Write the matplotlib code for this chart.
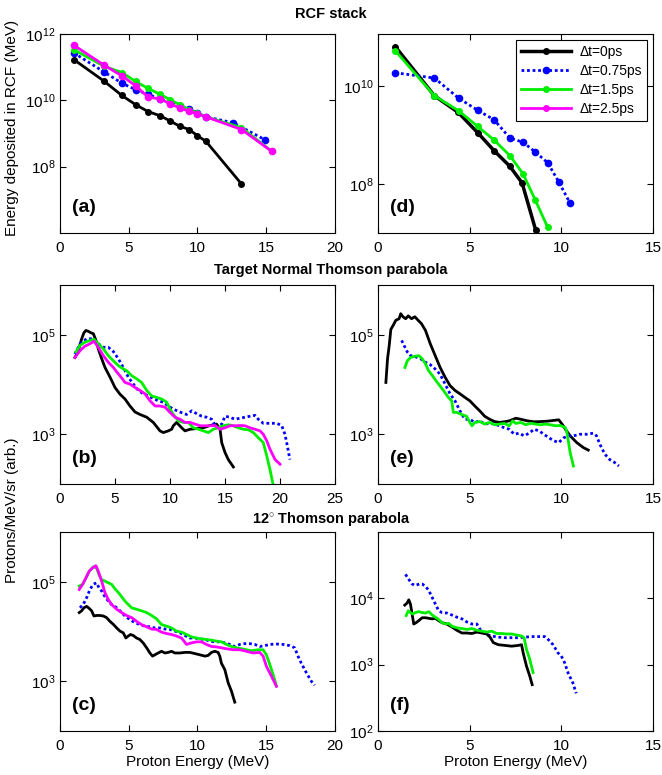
import matplotlib
matplotlib.use('Agg')
import matplotlib.pyplot as plt
from matplotlib.ticker import FixedLocator, NullLocator, FixedFormatter

plt.rcParams['font.family'] = ['Liberation Sans', 'DejaVu Sans']
plt.rcParams['mathtext.fontset'] = 'custom'
plt.rcParams['mathtext.rm'] = 'Liberation Sans'
plt.rcParams['mathtext.it'] = 'Liberation Sans:italic'
plt.rcParams['mathtext.bf'] = 'Liberation Sans:bold'

labels = ['\u0394t=0ps', '\u0394t=0.75ps', '\u0394t=1.5ps', '\u0394t=2.5ps']
colors = ['black', '#0000ff', '#00ee00', '#ff00ff']

# ---- (a) RCF stack, shot set 1 ----
a_x = [1.0, 3.2, 4.5, 5.5, 6.4, 7.3, 8.0, 8.7, 9.4, 10.0, 10.6, 13.2]
a_x_long = [1.0, 3.2, 4.5, 5.5, 6.4, 7.3, 8.0, 8.7, 9.4, 10.0, 10.6, 13.2, 15.4]
a_blue_x = [1.0, 3.2, 4.5, 5.5, 6.4, 7.3, 8.0, 8.7, 9.4, 10.0, 10.6, 12.6, 14.9]
a_black = [1.7e11, 3.8e10, 1.4e10, 7.4e9, 4.6e9, 3.4e9, 2.4e9, 1.66e9, 1.32e9, 8.5e8, 5.9e8, 3.0e7]
a_blue = [2.7e11, 7.2e10, 3.3e10, 2.1e10, 1.5e10, 1.1e10, 8.3e9, 6.9e9, 5.5e9, 4.2e9, 3.2e9, 2.1e9, 6.5e8]
a_green = [3.4e11, 1.07e11, 6.9e10, 3.7e10, 2.3e10, 1.5e10, 1.05e10, 7.4e9, 5.2e9, 4.2e9, 3.2e9, 1.5e9, 2.9e8]
a_magenta = [4.6e11, 1.15e11, 5.5e10, 2.75e10, 1.26e10, 1.1e10, 7.9e9, 5.9e9, 4.7e9, 3.9e9, 3.2e9, 1.32e9, 2.9e8]

# ---- (d) RCF stack, shot set 2 ----
d_x_black = [0.95, 3.08, 4.37, 5.43, 6.33, 7.19, 7.86, 8.6]
d_black = [6.3e10, 6.3e9, 2.9e9, 1.12e9, 4.8e8, 2.3e8, 1.05e8, 1.15e7]
d_x_green = [0.95, 3.08, 4.41, 5.43, 6.33, 7.19, 7.91, 8.58, 9.26]
d_green = [5.2e10, 6.3e9, 3.1e9, 1.5e9, 7.9e8, 3.8e8, 1.62e8, 4.7e7, 1.3e7]
d_x_blue = [0.95, 3.08, 4.41, 5.43, 6.33, 7.19, 7.91, 8.58, 9.26, 9.86, 10.47]
d_blue = [1.86e10, 1.45e10, 5.6e9, 3.2e9, 2.05e9, 8.7e8, 7.1e8, 4.5e8, 2.7e8, 1.1e8, 4.1e7]

# ---- (b) Target normal TP, set 1 ----
b_black_x = [1.36, 1.67, 1.97, 2.18, 2.36, 2.58, 2.79, 3.03, 3.27, 3.48, 3.79, 4.09, 4.55, 5.0,
             5.45, 5.91, 6.36, 6.82, 7.27, 7.88, 8.48, 9.09, 9.39, 9.85, 10.15, 10.3, 10.6, 11.06,
             11.36, 11.82, 12.42, 13.03, 13.64, 14.24, 14.55, 14.7, 15.0, 15.3, 15.76]
b_black = [3.5e4, 4.8e4, 8.3e4, 1.1e5, 1.22e5, 1.17e5, 1.1e5, 1.05e5, 7.7e4, 5.2e4, 3.3e4, 2.2e4,
           1.4e4, 8.7e3, 6.4e3, 5.1e3, 3.7e3, 2.8e3, 2.5e3, 2.2e3, 1.73e3, 1.17e3, 1.08e3, 1.17e3,
           1.26e3, 1.48e3, 1.73e3, 1.35e3, 1.17e3, 1.26e3, 1.3e3, 1.35e3, 1.5e3, 1.6e3, 1.26e3,
           6.8e2, 4.3e2, 3.1e2, 2.2e2]
b_blue_x = [1.36, 1.82, 2.42, 3.03, 3.48, 3.94, 4.39, 4.85, 5.3, 5.61, 5.91, 6.21, 6.67, 7.12,
            7.58, 8.03, 8.48, 8.94, 9.39, 9.85, 10.3, 10.9, 11.5, 11.97, 12.42, 12.88, 13.33,
            13.79, 14.24, 14.7, 15.0, 15.45, 15.9, 16.36, 16.82, 17.27, 17.73, 18.03, 18.48,
            19.09, 19.7, 20.15, 20.45, 20.67, 20.9]
b_blue = [4.1e4, 6.6e4, 8.3e4, 8.3e4, 6.6e4, 5.6e4, 5.6e4, 4.6e4, 3.3e4, 2.5e4, 1.9e4, 1.4e4,
          1.02e4, 7.6e3, 6.5e3, 5.9e3, 5.2e3, 4.7e3, 4.4e3, 3.7e3, 3.2e3, 2.8e3, 2.5e3, 2.95e3,
          2.6e3, 2.3e3, 2.2e3, 2.0e3, 1.35e3, 1.6e3, 2.3e3, 2.2e3, 2.0e3, 2.1e3, 2.2e3, 2.3e3,
          2.4e3, 2.0e3, 1.66e3, 1.66e3, 1.66e3, 1.5e3, 1.0e3, 5.8e2, 3.1e2]
b_green_x = [1.45, 1.82, 2.27, 2.73, 3.09, 3.48, 3.94, 4.39, 4.85, 5.3, 5.76, 6.06, 6.52, 6.97,
             7.42, 7.88, 8.33, 8.79, 9.24, 9.7, 10.0, 10.3, 10.76, 11.21, 11.67, 12.12, 12.58,
             13.03, 13.48, 13.94, 14.39, 14.85, 15.3, 15.76, 16.21, 16.67, 17.12, 17.58, 18.03,
             18.48, 18.79, 19.09, 19.4]
b_green = [4.5e4, 6.1e4, 7.1e4, 7.7e4, 8.1e4, 6.6e4, 5.2e4, 3.8e4, 3.0e4, 2.4e4, 2.05e4, 1.9e4,
           1.5e4, 1.3e4, 1.1e4, 7.6e3, 5.9e3, 5.5e3, 5.1e3, 4.4e3, 3.2e3, 2.5e3, 1.86e3, 1.73e3,
           1.73e3, 1.35e3, 1.26e3, 1.17e3, 1.08e3, 1.26e3, 1.35e3, 1.48e3, 1.55e3, 1.48e3,
           1.35e3, 1.26e3, 1.23e3, 1.08e3, 8.5e2, 6.8e2, 3.7e2, 1.95e2, 9.0e1]
b_magenta_x = [1.36, 1.82, 2.27, 2.73, 3.09, 3.48, 3.94, 4.39, 4.85, 5.15, 5.45, 5.91, 6.36, 6.82,
               7.27, 7.73, 8.18, 8.64, 9.09, 9.55, 10.0, 10.45, 10.91, 11.36, 11.82, 12.27, 12.73,
               13.18, 13.64, 14.09, 14.55, 15.0, 15.45, 15.91, 16.36, 16.82, 17.27, 17.73, 18.18,
               18.48, 18.79, 19.09, 19.55, 20.0]
b_magenta = [3.5e4, 4.8e4, 5.9e4, 6.6e4, 7.4e4, 5.6e4, 3.8e4, 2.8e4, 2.2e4, 1.8e4, 1.5e4, 1.1e4,
             1.02e4, 8.7e3, 7.6e3, 6.5e3, 4.7e3, 3.7e3, 3.7e3, 3.5e3, 2.75e3, 2.2e3, 2.0e3, 1.73e3,
             1.73e3, 1.6e3, 1.48e3, 1.48e3, 1.48e3, 1.5e3, 1.26e3, 1.35e3, 1.48e3, 1.48e3, 1.5e3,
             1.48e3, 1.35e3, 1.26e3, 1.17e3, 1.0e3, 7.4e2, 5.0e2, 3.1e2, 2.5e2]

# ---- (e) Target normal TP, set 2 ----
e_black_x = [0.43, 0.52, 0.61, 0.7, 0.83, 0.97, 1.15, 1.24, 1.36, 1.51, 1.65, 1.83, 2.01, 2.19,
             2.37, 2.59, 2.85, 3.12, 3.39, 3.66, 3.93, 4.2, 4.47, 4.74, 5.01, 5.28, 5.55, 5.82,
             6.09, 6.36, 6.62, 6.89, 7.16, 7.52, 7.79, 8.15, 8.51, 8.87, 9.23, 9.59, 9.86, 10.04,
             10.22, 10.48, 10.84, 11.2, 11.47]
e_black = [1.1e4, 3.3e4, 6.0e4, 1.28e5, 1.55e5, 1.95e5, 2.1e5, 2.65e5, 2.3e5, 2.1e5, 2.4e5, 2.1e5,
           2.3e5, 1.95e5, 1.67e5, 1.22e5, 6.6e4, 3.8e4, 2.2e4, 1.4e4, 9.5e3, 7.6e3, 6.5e3, 5.5e3,
           4.7e3, 3.7e3, 2.95e3, 2.3e3, 2.0e3, 1.8e3, 1.73e3, 1.78e3, 1.86e3, 2.1e3, 2.0e3, 1.86e3,
           1.78e3, 1.8e3, 1.83e3, 1.9e3, 1.95e3, 1.6e3, 1.26e3, 9.3e2, 6.8e2, 5.4e2, 4.8e2]
e_blue_x = [1.29, 1.42, 1.6, 1.78, 2.05, 2.32, 2.59, 2.85, 3.12, 3.39, 3.66, 3.93, 4.2, 4.47,
            4.74, 5.01, 5.28, 5.55, 5.82, 6.09, 6.36, 6.62, 6.89, 7.16, 7.43, 7.7, 7.97, 8.24,
            8.51, 8.78, 9.05, 9.32, 9.59, 9.86, 10.13, 10.4, 10.66, 11.02, 11.38, 11.74, 11.92,
            12.1, 12.37, 12.64, 12.91, 13.14]
e_blue = [7.7e4, 6.1e4, 4.5e4, 3.8e4, 3.6e4, 3.3e4, 2.8e4, 2.5e4, 2.05e4, 1.6e4, 1.02e4, 6.5e3,
          4.7e3, 2.95e3, 2.0e3, 2.0e3, 1.73e3, 1.86e3, 1.6e3, 1.66e3, 1.6e3, 1.48e3, 1.35e3,
          1.26e3, 1.0e3, 1.05e3, 9.3e2, 1.05e3, 1.26e3, 1.17e3, 1.0e3, 8.5e2, 7.4e2, 6.8e2, 8.5e2,
          9.3e2, 9.3e2, 1.0e3, 1.0e3, 1.05e3, 9.3e2, 6.3e2, 4.0e2, 3.1e2, 2.7e2, 2.3e2]
e_green_x = [1.47, 1.6, 1.78, 2.01, 2.23, 2.41, 2.59, 2.76, 3.03, 3.3, 3.57, 3.84, 4.02, 4.11,
             4.29, 4.56, 4.83, 5.01, 5.13, 5.28, 5.55, 5.82, 6.09, 6.36, 6.62, 6.89, 7.16, 7.34,
             7.52, 7.79, 8.06, 8.33, 8.6, 8.87, 9.14, 9.41, 9.68, 9.95, 10.22, 10.31, 10.48, 10.66]
e_green = [2.2e4, 3.0e4, 3.5e4, 3.7e4, 3.8e4, 3.3e4, 2.6e4, 1.9e4, 1.4e4, 1.02e4, 7.6e3, 5.5e3,
           4.7e3, 2.75e3, 2.75e3, 2.5e3, 2.3e3, 1.73e3, 1.48e3, 1.73e3, 1.8e3, 1.6e3, 1.73e3,
           1.55e3, 1.6e3, 1.65e3, 1.48e3, 1.86e3, 1.65e3, 1.73e3, 1.55e3, 1.66e3, 1.6e3, 1.55e3,
           1.6e3, 1.55e3, 1.48e3, 1.5e3, 1.35e3, 1.07e3, 4.3e2, 2.3e2]

# ---- (c) 12 deg TP, set 1 ----
c_black_x = [1.4, 1.57, 1.74, 1.94, 2.13, 2.3, 2.47, 2.66, 2.91, 3.15, 3.39, 3.63, 3.87, 4.12,
             4.36, 4.6, 4.79, 4.96, 5.13, 5.33, 5.57, 5.81, 6.05, 6.3, 6.54, 6.73, 6.9, 7.14,
             7.38, 7.63, 7.87, 8.11, 8.35, 8.72, 9.08, 9.44, 9.81, 10.17, 10.53, 10.77, 11.02,
             11.26, 11.5, 11.62, 11.74, 11.99, 12.23, 12.47, 12.71]
c_black = [2.4e4, 2.6e4, 3.0e4, 3.2e4, 2.9e4, 2.6e4, 2.05e4, 2.1e4, 2.1e4, 2.05e4, 1.9e4, 1.6e4,
           1.4e4, 1.18e4, 1.02e4, 9.4e3, 7.4e3, 8.1e3, 8.7e3, 8.3e3, 7.4e3, 6.9e3, 5.9e3, 4.7e3,
           3.7e3, 3.2e3, 3.4e3, 3.7e3, 4.0e3, 3.7e3, 3.8e3, 4.0e3, 3.7e3, 3.7e3, 3.8e3, 3.8e3,
           3.6e3, 3.4e3, 3.2e3, 3.3e3, 3.8e3, 4.0e3, 3.8e3, 3.2e3, 2.3e3, 1.7e3, 9.3e2, 6.3e2, 3.8e2]
c_blue_x = [1.45, 1.69, 1.94, 2.18, 2.42, 2.66, 2.83, 3.03, 3.27, 3.51, 3.75, 4.0, 4.36, 4.72,
            5.08, 5.45, 5.81, 6.17, 6.54, 6.9, 7.26, 7.63, 7.99, 8.35, 8.72, 9.08, 9.44, 9.81,
            10.17, 10.53, 10.9, 11.26, 11.62, 11.99, 12.35, 12.71, 13.08, 13.44, 13.8, 14.16,
            14.53, 14.89, 15.25, 15.74, 16.22, 16.71, 17.07, 17.31, 17.55, 17.92, 18.28, 18.52]
c_blue = [3.0e4, 3.5e4, 4.8e4, 7.0e4, 8.9e4, 9.5e4, 7.6e4, 6.5e4, 5.0e4, 4.1e4, 3.5e4, 3.2e4,
          2.6e4, 2.05e4, 1.74e4, 1.5e4, 1.38e4, 1.28e4, 1.24e4, 1.18e4, 1.18e4, 1.12e4, 1.1e4,
          1.02e4, 9.4e3, 8.3e3, 7.4e3, 7.4e3, 7.1e3, 6.9e3, 6.4e3, 6.2e3, 6.2e3, 5.9e3, 5.5e3,
          5.0e3, 5.5e3, 5.7e3, 5.7e3, 5.5e3, 5.0e3, 5.2e3, 5.5e3, 5.6e3, 5.5e3, 5.2e3, 4.7e3,
          3.2e3, 2.3e3, 1.48e3, 1.0e3, 8.3e2]
c_green_x = [1.4, 1.65, 1.89, 2.13, 2.42, 2.66, 2.83, 3.03, 3.27, 3.51, 3.75, 4.0, 4.24, 4.48,
             4.72, 4.96, 5.21, 5.57, 5.93, 6.3, 6.66, 7.02, 7.38, 7.75, 8.11, 8.47, 8.84, 9.2,
             9.56, 9.93, 10.29, 10.65, 11.02, 11.38, 11.74, 12.11, 12.47, 12.83, 13.2, 13.56,
             13.92, 14.41, 14.77, 15.01, 15.25, 15.5, 15.74]
c_green = [8.2e4, 8.9e4, 1.2e5, 1.64e5, 2.0e5, 1.9e5, 1.4e5, 1.1e5, 1.03e5, 9.5e4, 8.9e4, 7.2e4,
           6.1e4, 5.0e4, 4.1e4, 3.5e4, 3.0e4, 2.8e4, 2.6e4, 2.4e4, 2.1e4, 1.8e4, 1.38e4, 1.28e4,
           1.18e4, 1.02e4, 9.7e3, 8.7e3, 7.8e3, 7.4e3, 7.1e3, 6.9e3, 6.7e3, 6.4e3, 6.2e3, 5.5e3,
           5.0e3, 4.7e3, 4.5e3, 4.3e3, 4.1e3, 4.3e3, 4.3e3, 3.4e3, 2.2e3, 1.36e3, 8.1e2]
c_magenta_x = [1.4, 1.65, 1.89, 2.13, 2.37, 2.61, 2.78, 3.03, 3.27, 3.51, 3.75, 4.12, 4.48, 4.84,
               5.21, 5.57, 5.93, 6.3, 6.66, 7.02, 7.38, 7.75, 8.11, 8.47, 8.84, 9.2, 9.56, 9.93,
               10.29, 10.65, 11.02, 11.38, 11.74, 12.11, 12.59, 13.08, 13.56, 14.04, 14.53, 14.77,
               15.01, 15.38, 15.74]
c_magenta = [7.0e4, 8.9e4, 1.2e5, 1.64e5, 1.9e5, 2.1e5, 1.64e5, 1.03e5, 6.0e4, 4.4e4, 3.5e4,
             2.8e4, 2.4e4, 2.1e4, 1.9e4, 1.6e4, 1.38e4, 1.24e4, 1.12e4, 1.1e4, 9.7e3, 9.1e3, 8.7e3,
             8.1e3, 7.4e3, 5.5e3, 5.9e3, 6.2e3, 6.2e3, 5.5e3, 5.0e3, 4.9e3, 4.7e3, 4.5e3, 4.3e3,
             4.3e3, 4.0e3, 3.7e3, 3.8e3, 3.2e3, 2.0e3, 1.26e3, 7.9e2]

# ---- (f) 12 deg TP, set 2 ----
f_blue_x = [1.5, 1.59, 1.72, 1.86, 2.01, 2.13, 2.26, 2.4, 2.59, 2.77, 2.95, 3.13, 3.31, 3.49,
            3.76, 4.03, 4.3, 4.58, 4.85, 5.12, 5.39, 5.57, 5.84, 6.2, 6.56, 6.93, 7.29, 7.65,
            8.01, 8.37, 8.73, 9.1, 9.28, 9.55, 9.82, 10.0, 10.18, 10.36, 10.63, 10.81]
f_blue = [2.3e4, 2.1e4, 1.86e4, 1.65e4, 1.56e4, 1.6e4, 1.65e4, 1.65e4, 1.52e4, 1.31e4, 1.04e4,
          8.2e3, 6.5e3, 6.1e3, 6.0e3, 5.6e3, 5.2e3, 4.9e3, 4.4e3, 4.1e3, 4.1e3, 3.4e3, 2.9e3,
          2.7e3, 2.6e3, 2.55e3, 2.55e3, 2.55e3, 2.6e3, 2.65e3, 2.65e3, 2.65e3, 2.4e3, 2.0e3,
          1.5e3, 1.35e3, 1.07e3, 7.6e2, 5.3e2, 3.7e2]
f_black_x = [1.46, 1.59, 1.68, 1.77, 1.86, 1.95, 2.08, 2.22, 2.41, 2.59, 2.77, 2.95, 3.13, 3.31,
             3.49, 3.76, 4.03, 4.3, 4.58, 4.85, 5.12, 5.39, 5.66, 5.93, 6.11, 6.29, 6.56, 6.93,
             7.29, 7.65, 7.83, 7.92, 8.1, 8.28, 8.41]
f_black = [7.9e3, 8.5e3, 9.5e3, 8.2e3, 5.8e3, 4.1e3, 4.3e3, 4.6e3, 5.1e3, 5.1e3, 5.0e3, 4.9e3,
           5.0e3, 4.6e3, 4.3e3, 4.1e3, 3.7e3, 3.3e3, 3.0e3, 3.0e3, 2.95e3, 3.1e3, 3.0e3, 2.9e3,
           2.6e3, 2.15e3, 2.0e3, 1.95e3, 1.9e3, 1.95e3, 2.0e3, 1.5e3, 9.5e2, 6.7e2, 5.0e2]
f_green_x = [1.54, 1.65, 1.77, 1.9, 2.04, 2.22, 2.41, 2.59, 2.77, 2.95, 3.13, 3.31, 3.49, 3.67,
             3.85, 4.03, 4.3, 4.58, 4.85, 5.12, 5.39, 5.66, 5.93, 6.2, 6.47, 6.75, 7.02, 7.29,
             7.56, 7.83, 7.97, 8.1, 8.28, 8.46]
f_green = [5.5e3, 6.5e3, 6.1e3, 5.8e3, 6.1e3, 6.3e3, 6.1e3, 6.0e3, 6.3e3, 5.6e3, 5.2e3, 4.8e3,
           4.3e3, 4.1e3, 4.2e3, 3.8e3, 3.6e3, 3.5e3, 3.4e3, 3.5e3, 3.3e3, 3.2e3, 3.1e3, 3.2e3,
           2.95e3, 2.95e3, 2.9e3, 2.9e3, 2.8e3, 2.7e3, 2.55e3, 1.7e3, 1.2e3, 7.6e2]

fig = plt.figure(figsize=(6.62, 7.75), dpi=100)

W = 275 / 662
H = 199 / 775
lefts = [60 / 662, 378 / 662]
bottoms = [1 - 233 / 775, 1 - 484 / 775, 1 - 731 / 775]

dotted = (0, (1, 1))
lw = 2.0


def style(ax, xmax, ylim, yticks, ylabels, tag):
    ax.set_yscale('log')
    ax.set_xlim(0, xmax)
    ax.set_ylim(*ylim)
    ax.set_xticks(range(0, xmax + 1, 5))
    ax.yaxis.set_major_locator(FixedLocator(yticks))
    ax.yaxis.set_major_formatter(FixedFormatter(ylabels))
    ax.yaxis.set_minor_locator(NullLocator())
    ax.tick_params(direction='in', top=True, right=True, length=4, labelsize=11)
    ax.tick_params(axis='x', pad=6)
    for s in ax.spines.values():
        s.set_linewidth(0.8)
    ax.text(0.045, 0.13, tag, transform=ax.transAxes, fontsize=14,
            fontweight='bold', va='center', ha='left')


# (a)
ax = fig.add_axes([lefts[0], bottoms[0], W, H])
ax.plot(a_x, a_black, '-o', color=colors[0], lw=lw, ms=4)
ax.plot(a_blue_x, a_blue, 'o', ls=dotted, color=colors[1], lw=lw, ms=4.5)
ax.plot(a_x_long, a_green, '-o', color=colors[2], lw=lw, ms=4)
ax.plot(a_x_long, a_magenta, '-o', color=colors[3], lw=lw, ms=4.5)
style(ax, 20, (1e6, 1e12), [1e8, 1e10, 1e12], ['$10^8$', '$10^{10}$', '$10^{12}$'], '(a)')

# (d)
ax = fig.add_axes([lefts[1], bottoms[0], W, H])
ax.plot(d_x_black, d_black, '-o', color=colors[0], lw=2.5, ms=4, label=labels[0])
ax.plot(d_x_blue, d_blue, 'o', ls=dotted, color=colors[1], lw=lw, ms=4.5, label=labels[1])
ax.plot(d_x_green, d_green, '-o', color=colors[2], lw=lw, ms=4, label=labels[2])
ax.plot([], [], '-o', color=colors[3], lw=lw, ms=4, label=labels[3])
style(ax, 15, (1e7, 1.15e11), [1e8, 1e10], ['$10^8$', '$10^{10}$'], '(d)')
leg = ax.legend(loc='upper right', fontsize=10, numpoints=1, handlelength=3.6,
                fancybox=False, framealpha=1, edgecolor='black', borderaxespad=0.4,
                labelspacing=0.35, handletextpad=0.6)
leg.get_frame().set_linewidth(0.8)

# (b)
ax = fig.add_axes([lefts[0], bottoms[1], W, H])
ax.plot(b_black_x, b_black, '-', color=colors[0], lw=lw)
ax.plot(b_blue_x, b_blue, ls=dotted, color=colors[1], lw=lw)
ax.plot(b_green_x, b_green, '-', color=colors[2], lw=lw)
ax.plot(b_magenta_x, b_magenta, '-', color=colors[3], lw=lw)
style(ax, 25, (1e2, 1e6), [1e3, 1e5], ['$10^3$', '$10^5$'], '(b)')

# (e)
ax = fig.add_axes([lefts[1], bottoms[1], W, H])
ax.plot(e_black_x, e_black, '-', color=colors[0], lw=lw)
ax.plot(e_blue_x, e_blue, ls=dotted, color=colors[1], lw=lw)
ax.plot(e_green_x, e_green, '-', color=colors[2], lw=lw)
style(ax, 15, (1e2, 1e6), [1e3, 1e5], ['$10^3$', '$10^5$'], '(e)')

# (c)
ax = fig.add_axes([lefts[0], bottoms[2], W, H])
ax.plot(c_black_x, c_black, '-', color=colors[0], lw=lw)
ax.plot(c_blue_x, c_blue, ls=dotted, color=colors[1], lw=lw)
ax.plot(c_green_x, c_green, '-', color=colors[2], lw=lw)
ax.plot(c_magenta_x, c_magenta, '-', color=colors[3], lw=lw)
style(ax, 20, (1e2, 1e6), [1e3, 1e5], ['$10^3$', '$10^5$'], '(c)')
ax.set_xlabel('Proton Energy (MeV)', fontsize=11, labelpad=1)

# (f)
ax = fig.add_axes([lefts[1], bottoms[2], W, H])
ax.plot(f_blue_x, f_blue, ls=dotted, color=colors[1], lw=lw)
ax.plot(f_black_x, f_black, '-', color=colors[0], lw=lw)
ax.plot(f_green_x, f_green, '-', color=colors[2], lw=lw)
style(ax, 15, (1e2, 1e5), [1e2, 1e3, 1e4], ['$10^2$', '$10^3$', '$10^4$'], '(f)')
ax.set_xlabel('Proton Energy (MeV)', fontsize=11, labelpad=1)

# row titles and shared labels
fig.text(0.5, 1 - 14 / 775, 'RCF stack', ha='center', va='center', fontsize=10.5, fontweight='bold')
fig.text(0.5, 1 - 270 / 775, 'Target Normal Thomson parabola', ha='center', va='center',
         fontsize=10.5, fontweight='bold')
fig.text(0.5, 1 - 519 / 775, r'12$^{\circ}$ Thomson parabola', ha='center', va='center',
         fontsize=10.5, fontweight='bold')
fig.text(12 / 662, 1 - 128 / 775, 'Energy deposited in RCF (MeV)', rotation=90,
         ha='center', va='center', fontsize=11)
fig.text(12 / 662, 1 - 510 / 775, 'Protons/MeV/sr (arb.)', rotation=90,
         ha='center', va='center', fontsize=11)

fig.savefig('out.png', dpi=100)
